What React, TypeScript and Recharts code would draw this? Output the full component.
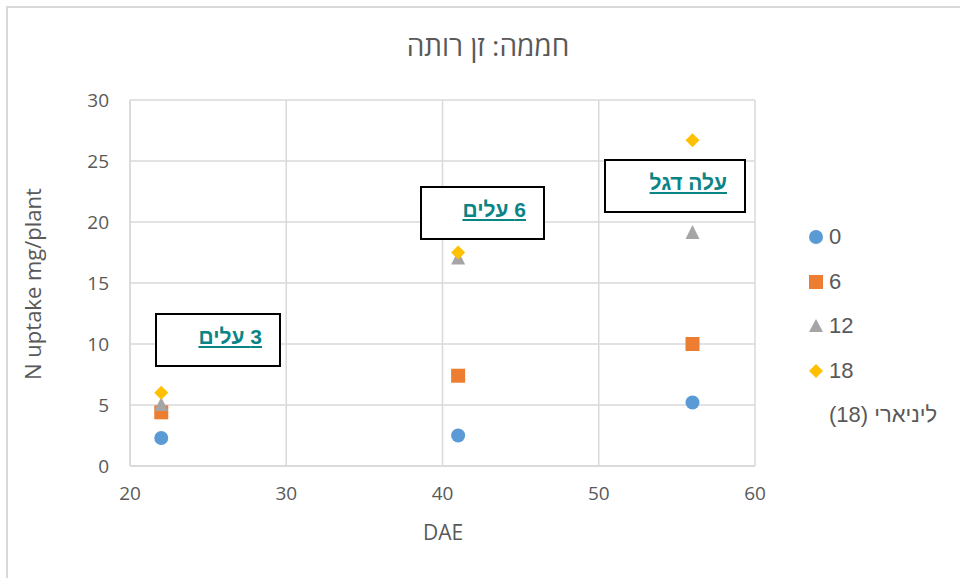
import {
  ScatterChart,
  Scatter,
  XAxis,
  YAxis,
  CartesianGrid,
} from "recharts";

const days = [22, 41, 56];
const rate0 = [2.3, 2.5, 5.2];
const rate6 = [4.4, 7.4, 10.0];
const rate12 = [5.0, 17.0, 19.1];
const rate18 = [6.0, 17.5, 26.7];
const xTicks = [20, 30, 40, 50, 60];
const yTicks = [0, 5, 10, 15, 20, 25, 30];

const toPoints = (vals: number[]) => days.map((d, i) => ({ x: d, y: vals[i] }));

const BLUE = "#5b9bd5";
const ORANGE = "#ed7d31";
const GRAY = "#a5a5a5";
const GOLD = "#ffc000";
const TEAL = "#0a8585";
const TEXT = "#595959";
const FONT = "'Open Sans', 'DejaVu Sans', sans-serif";
const ARIAL = "'Liberation Sans', Arial, sans-serif";

const CircleDot = (p: any) => <circle cx={p.cx} cy={p.cy} r={7} fill={BLUE} />;
const SquareDot = (p: any) => (
  <rect x={p.cx - 7} y={p.cy - 7} width={14} height={14} fill={ORANGE} />
);
const TriangleDot = (p: any) => (
  <path d={`M${p.cx},${p.cy - 8} L${p.cx + 7},${p.cy + 6} L${p.cx - 7},${p.cy + 6} Z`} fill={GRAY} />
);
const DiamondDot = (p: any) => (
  <path d={`M${p.cx},${p.cy - 7} L${p.cx + 7},${p.cy} L${p.cx},${p.cy + 7} L${p.cx - 7},${p.cy} Z`} fill={GOLD} />
);

const legendItems = [
  { name: "0", marker: <circle cx={8} cy={8} r={7} fill={BLUE} /> },
  { name: "6", marker: <rect x={1} y={1} width={14} height={14} fill={ORANGE} /> },
  { name: "12", marker: <path d="M8,1 L15,14 L1,14 Z" fill={GRAY} /> },
  { name: "18", marker: <path d="M8,1 L15,8 L8,15 L1,8 Z" fill={GOLD} /> },
];

const notes = [
  { text: "3 עלים", left: 155, top: 313, width: 126, height: 54 },
  { text: "6 עלים", left: 420, top: 186, width: 125, height: 54 },
  { text: "עלה דגל", left: 604, top: 159, width: 142, height: 54 },
];

export default function App() {
  return (
    <div style={{ position: "absolute", left: 0, top: 0, width: 960, height: 578, background: "#fff", fontFamily: FONT }}>
      <div style={{ position: "absolute", left: 7, top: 6, width: 953, height: 2, background: "#d9d9d9" }} />
      <div style={{ position: "absolute", left: 6, top: 6, width: 2, height: 572, background: "#d9d9d9" }} />

      <ScatterChart width={960} height={578} margin={{ top: 100, right: 205, bottom: 72, left: 70 }}>
        <CartesianGrid stroke="#d9d9d9" strokeWidth={1.5} />
        <XAxis
          type="number"
          dataKey="x"
          domain={[20, 60]}
          ticks={xTicks}
          height={40}
          tickLine={false}
          tickSize={0}
          tickMargin={21}
          axisLine={{ stroke: "#d9d9d9", strokeWidth: 1.5 }}
          tick={{ fill: TEXT, fontSize: 19, fontFamily: FONT }}
        />
        <YAxis
          type="number"
          dataKey="y"
          domain={[0, 30]}
          ticks={yTicks}
          width={60}
          tickLine={false}
          tickSize={0}
          tickMargin={21}
          axisLine={{ stroke: "#d9d9d9", strokeWidth: 1.5 }}
          tick={{ fill: TEXT, fontSize: 19, fontFamily: FONT }}
        />
        <Scatter name="0" data={toPoints(rate0)} shape={CircleDot} isAnimationActive={false} />
        <Scatter name="6" data={toPoints(rate6)} shape={SquareDot} isAnimationActive={false} />
        <Scatter name="12" data={toPoints(rate12)} shape={TriangleDot} isAnimationActive={false} />
        <Scatter name="18" data={toPoints(rate18)} shape={DiamondDot} isAnimationActive={false} />
      </ScatterChart>

      <div style={{ position: "absolute", left: 0, width: 976, top: 26, textAlign: "center", fontSize: 28, color: TEXT, direction: "rtl" }}>
        חממה: זן רותה
      </div>
      <div
        style={{
          position: "absolute",
          left: 32,
          top: 284,
          transform: "translate(-50%, -50%) rotate(-90deg)",
          whiteSpace: "nowrap",
          fontSize: 22,
          color: TEXT,
        }}
      >
        N uptake mg/plant
      </div>
      <div style={{ position: "absolute", left: 343, width: 200, top: 518, textAlign: "center", fontSize: 21, color: TEXT }}>
        DAE
      </div>

      {notes.map((n) => (
        <div
          key={n.text}
          style={{
            position: "absolute",
            left: n.left,
            top: n.top,
            width: n.width,
            height: n.height,
            boxSizing: "border-box",
            border: "2px solid #000",
            background: "#fff",
            direction: "rtl",
            paddingRight: 17,
            paddingTop: 10,
            fontFamily: ARIAL,
            fontWeight: "bold",
            fontSize: 21,
            color: TEAL,
            textDecoration: "underline",
          }}
        >
          {n.text}
        </div>
      ))}

      <div style={{ position: "absolute", left: 808, top: 215, fontFamily: ARIAL, fontSize: 22, color: TEXT }}>
        {legendItems.map((l) => (
          <div key={l.name} style={{ display: "flex", alignItems: "center", height: 44.5 }}>
            <svg width={16} height={16} style={{ marginRight: 5 }}>
              {l.marker}
            </svg>
            <span>{l.name}</span>
          </div>
        ))}
        <div style={{ height: 44.5, display: "flex", alignItems: "center", paddingLeft: 21, direction: "rtl", whiteSpace: "nowrap" }}>
          ליניארי (18)
        </div>
      </div>
    </div>
  );
}
